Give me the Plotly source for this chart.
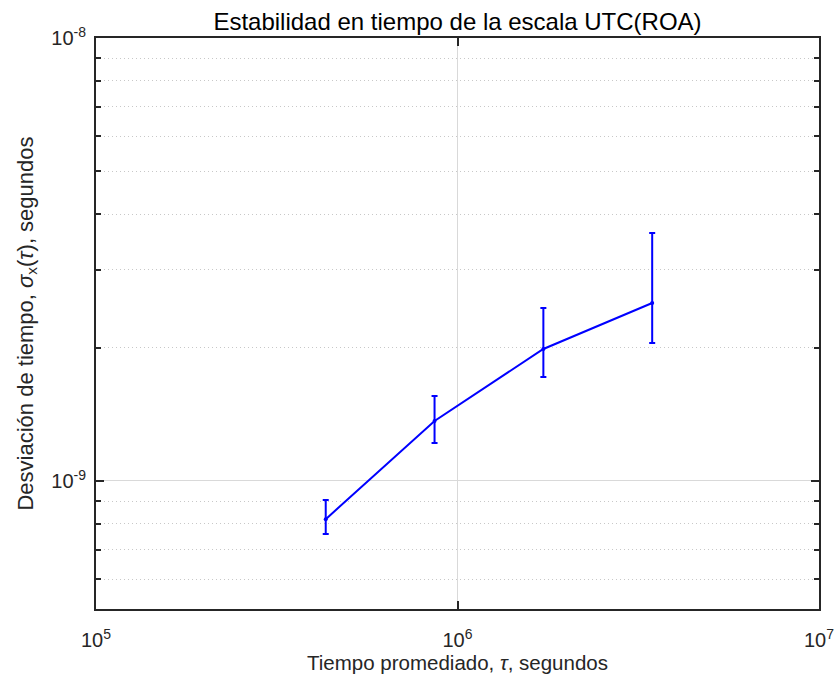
import plotly.graph_objects as go
import numpy as np

tau = [432000, 864000, 1728000, 3456000]
sigma = [8.2e-10, 1.366e-9, 1.986e-9, 2.522e-9]
err_hi = [9.06e-10, 1.556e-9, 2.457e-9, 3.63e-9]
err_lo = [7.59e-10, 1.218e-9, 1.717e-9, 2.049e-9]

x_ticks = [1e5, 1e6, 1e7]
x_ticktext = ["10<sup>5</sup>", "10<sup>6</sup>", "10<sup>7</sup>"]
y_ticks = [1e-9, 1e-8]
y_ticktext = ["10<sup>-9</sup>", "10<sup>-8</sup>"]
y_minor = [6e-10, 7e-10, 8e-10, 9e-10] + [k * 1e-9 for k in range(2, 10)]

up = [h - s for h, s in zip(err_hi, sigma)]
dn = [s - l for s, l in zip(sigma, err_lo)]

fig = go.Figure()
fig.add_trace(go.Scatter(
    x=tau, y=sigma, mode="lines+markers",
    line=dict(color="#0000ff", width=2),
    marker=dict(color="#0000ff", size=4),
    error_y=dict(type="data", array=up, arrayminus=dn, symmetric=False,
                 color="#0000ff", thickness=2, width=3),
    showlegend=False,
))

font = "Liberation Sans, Arial, sans-serif"
axcol = "#262626"
fig.update_layout(
    width=835, height=674,
    margin=dict(l=96, r=16, t=38, b=65),
    paper_bgcolor="white", plot_bgcolor="white",
    font=dict(family=font, color=axcol, size=17),
    title=dict(text="Estabilidad en tiempo de la escala UTC(ROA)",
               x=0.5, xanchor="center", xref="paper", y=0.968, yanchor="middle",
               font=dict(size=24, color="black")),
    xaxis=dict(
        type="log", range=[5, 7], automargin=False,
        tickvals=x_ticks, ticktext=x_ticktext,
        showgrid=True, gridcolor="#d9d9d9", gridwidth=1,
        showline=True, linecolor=axcol, linewidth=2, mirror="allticks",
        ticks="inside", ticklen=8, tickwidth=2, tickcolor=axcol,
        tickfont=dict(size=20, color=axcol), ticklabelstandoff=12,
        title=dict(text="Tiempo promediado, <i>τ</i>, segundos",
                   font=dict(size=20.5, color=axcol), standoff=4),
        zeroline=False,
    ),
    yaxis=dict(
        type="log", range=[np.log10(5.14e-10), -8], automargin=False,
        tickvals=y_ticks, ticktext=y_ticktext,
        showgrid=True, gridcolor="#d9d9d9", gridwidth=1,
        showline=True, linecolor=axcol, linewidth=2, mirror="allticks",
        ticks="inside", ticklen=8, tickwidth=2, tickcolor=axcol,
        tickfont=dict(size=20, color=axcol), ticklabelstandoff=4,
        minor=dict(tickvals=y_minor, ticks="inside", ticklen=5, tickwidth=1.5,
                   tickcolor=axcol, showgrid=True, griddash="1px,3px",
                   gridcolor="#c8c8c8", gridwidth=1),
        title=dict(text="Desviación de tiempo, <i>σ</i><sub>x</sub>(<i>τ</i>), segundos",
                   font=dict(size=22, color=axcol), standoff=12),
        zeroline=False,
    ),
)

fig.write_html("out.html")
